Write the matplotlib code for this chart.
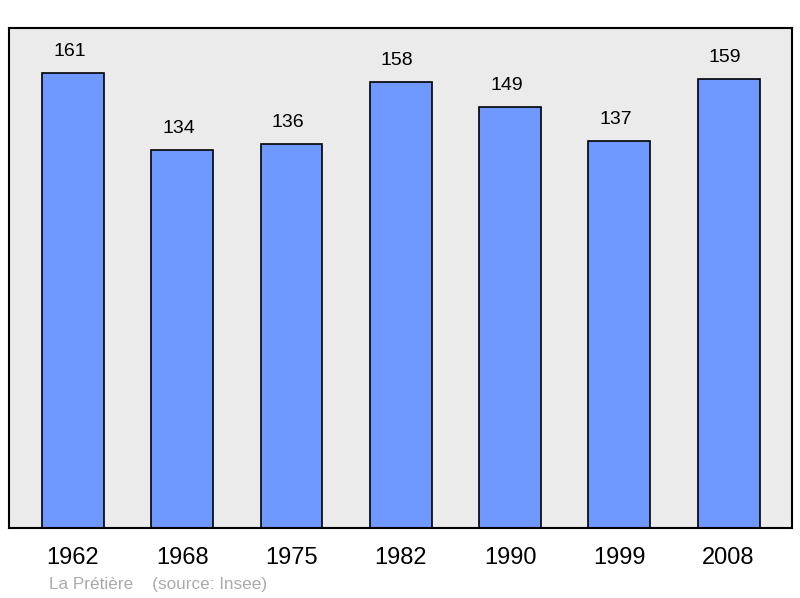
import matplotlib
matplotlib.use('Agg')
import matplotlib.pyplot as plt

plt.rcParams['font.family'] = ['Liberation Sans', 'DejaVu Sans']

years = ['1962', '1968', '1975', '1982', '1990', '1999', '2008']
population = [161, 134, 136, 158, 149, 137, 159]

fig = plt.figure(figsize=(8, 5.98), dpi=100)
ax = fig.add_axes([0.01125, 0.117, 0.97875, 0.836])
ax.set_facecolor('#ebebeb')

x = list(range(len(years)))
ax.bar(x, population, width=0.567, color='#7099ff', edgecolor='black', linewidth=1.2, zorder=2)
for xi, v in zip(x, population):
    ax.annotate(str(v), (xi, v), xytext=(-2.5, 15.5), textcoords='offset points',
                ha='center', va='center', fontsize=14)

ax.set_xlim(-0.585, 6.58)
ax.set_ylim(0, 177)
ax.set_yticks([])
ax.set_xticks(x)
ax.set_xticklabels(years, fontsize=17)
ax.tick_params(axis='x', length=0, pad=14)
for s in ax.spines.values():
    s.set_linewidth(1.5)

fig.text(49 / 800, 1 - 584 / 598, 'La Prétière    (source: Insee)', color='#aaaaaa',
         fontsize=12.3, va='center', ha='left')

fig.savefig('out.png', dpi=100)
